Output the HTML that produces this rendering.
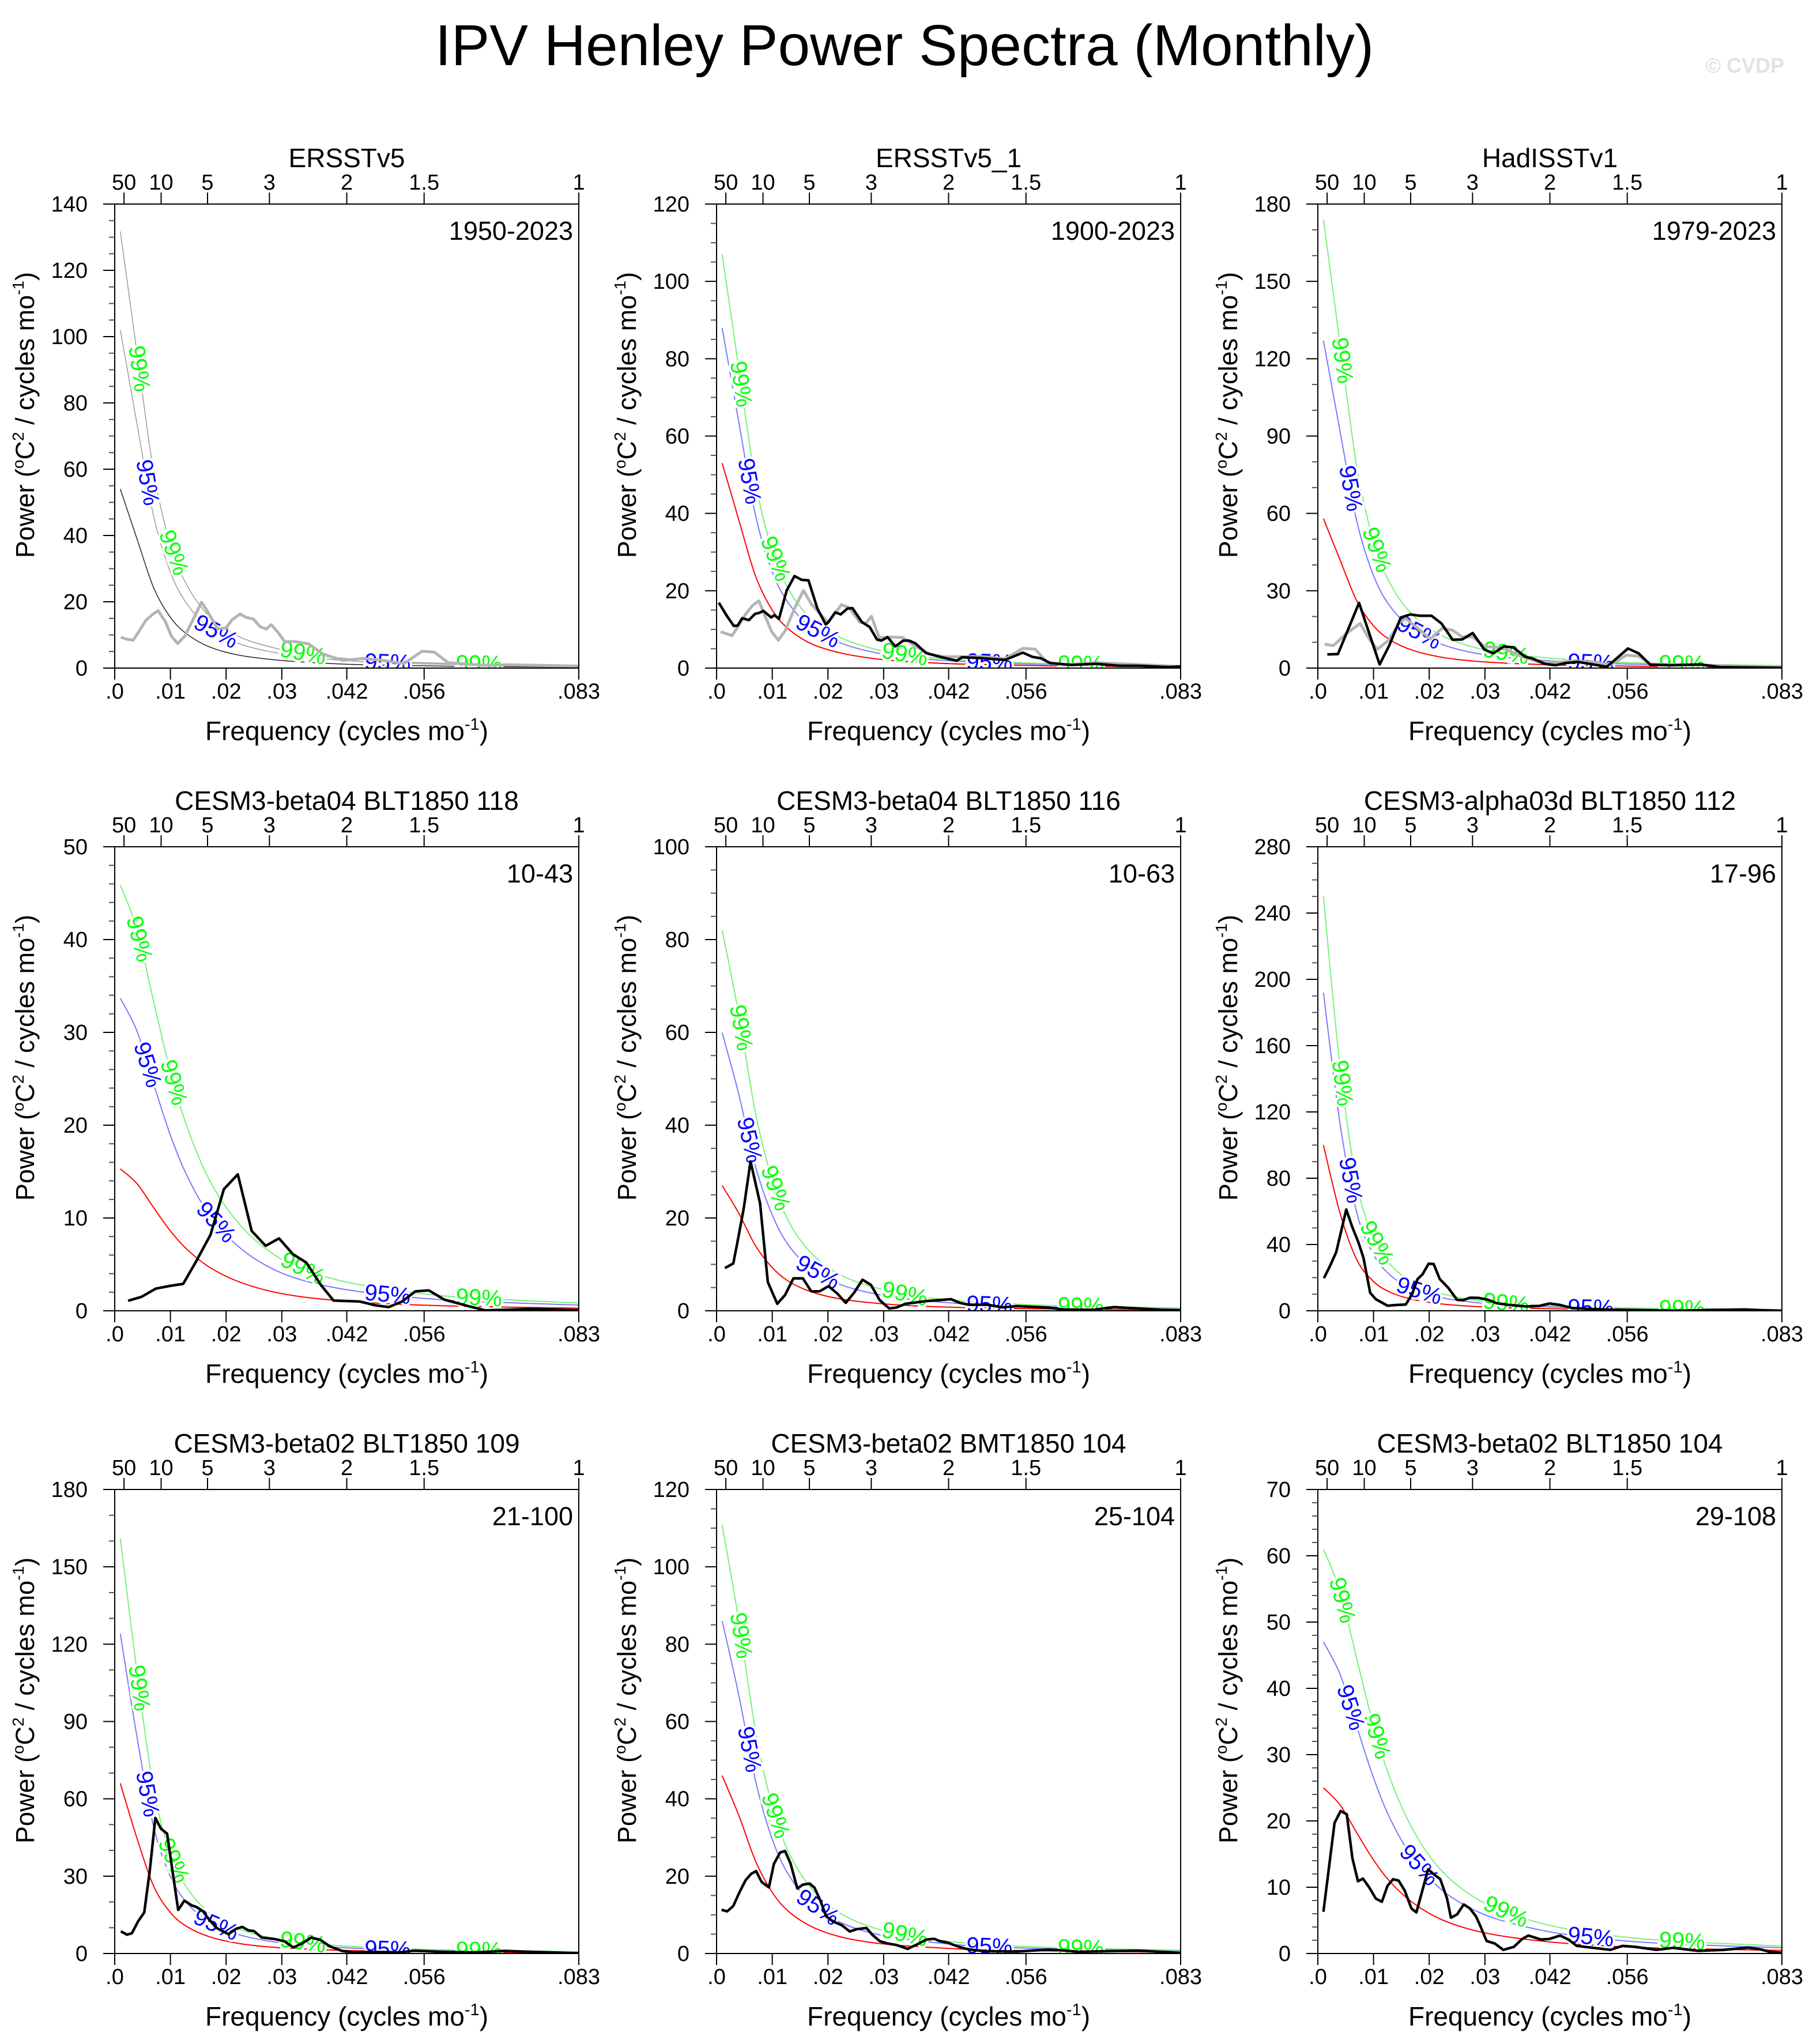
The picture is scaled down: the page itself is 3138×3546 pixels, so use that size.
<!DOCTYPE html>
<html><head><meta charset="utf-8"><style>
html,body{margin:0;padding:0;background:#fff}
svg{display:block;font-family:"Liberation Sans",Arial,sans-serif}
</style></head><body>
<svg id="chart" width="3138" height="3546" viewBox="0 0 3138 3546" xmlns="http://www.w3.org/2000/svg">
<rect width="3138" height="3546" fill="#fff"/>
<text x="1569" y="113" font-size="100" text-anchor="middle">IPV Henley Power Spectra (Monthly)</text>
<text x="3095" y="126" font-size="36" font-weight="bold" fill="#e2e2e2" text-anchor="end">© CVDP</text>
</svg>
<script>
const panelTitles = ["ERSSTv5","ERSSTv5_1","HadISSTv1","CESM3-beta04 BLT1850 118","CESM3-beta04 BLT1850 116","CESM3-alpha03d BLT1850 112","CESM3-beta02 BLT1850 109","CESM3-beta02 BMT1850 104","CESM3-beta02 BLT1850 104"];
const panelPeriods = ["1950-2023","1900-2023","1979-2023","10-43","10-63","17-96","21-100","25-104","29-108"];
const yMax = [140,120,180,50,100,280,180,120,70];
const yMajor = [20,20,30,10,20,40,30,20,10];
const yMinor = [5,5,10,2,5,10,10,5,2];
const xTickFreq = [0,0.01,0.02,0.03,0.04167,0.05556,0.08333];
const xTickLabels = [".0",".01",".02",".03",".042",".056",".083"];
const periodTicks = [50,10,5,3,2,1.5,1];
const theoryFreq = [0.001,0.004,0.007,0.010,0.013,0.017,0.022,0.028,0.035,0.045,0.060,0.0833];
const red1 = [54,39,24.2,15.3,10.2,6.4,4.0,2.6,1.7,1.0,0.58,0.31];
const red2 = [53,38.3,23.8,15.0,10.0,6.3,4.0,2.5,1.6,1.0,0.57,0.30];
const red3 = [58,41.9,26.0,16.4,10.9,6.9,4.3,2.7,1.8,1.1,0.62,0.33];
const red4 = [15.3,13.7,11.1,8.6,6.6,4.7,3.2,2.1,1.4,0.9,0.52,0.28];
const red5 = [27,21.0,14.0,9.3,6.3,4.1,2.6,1.7,1.1,0.67,0.38,0.2];
const red6 = [100,58.7,30.8,17.7,11.2,6.9,4.2,2.65,1.7,1.04,0.59,0.31];
const red7 = [66,44.7,26.1,15.9,10.4,6.5,4.0,2.5,1.65,1.0,0.57,0.3];
const red8 = [46,35.7,23.9,15.8,10.8,7.0,4.4,2.8,1.9,1.1,0.65,0.35];
const red9 = [25,22.4,18.2,14.1,10.8,7.7,5.2,3.5,2.4,1.5,0.86,0.46];
const factor95 = [1.89,1.66,2.19,2.2,2.22,1.92,1.88,1.87,1.88];
const factor99 = [2.44,2.02,3.0,3.0,3.04,2.5,2.44,2.41,2.44];
const label99Freq = [0.0044,0.0106,0.0338,0.0654];
const label95Freq = [0.0059,0.0182,0.049];

const grayF1 = [.0011,.0022,.0033,.0044,.0056,.0068,.0078,.0091,.0102,.0113,.0126,.0140,.0156,.0167,.0185,.0200,.0211,.0225,.0236,.0249,.0261,.0272,.0281,.0294,.0305,.0323,.0348,.0374,.0410,.0446,.0483,.0519,.0552,.0574,.0599,.0664,.0708,.0831];
const grayV1 = [9.3,8.7,8.4,11.2,14.4,16.2,17.3,14.0,9.6,7.4,9.7,14.4,19.9,17.0,11.8,12.1,14.6,16.3,15.3,14.8,12.5,11.8,13.1,10.6,8.0,8.0,7.3,4.2,2.3,2.9,2.3,1.3,5.1,4.8,1.6,0.8,1.0,0.6];
const grayF2 = [.0007,.0028,.0053,.0064,.0076,.0088,.0099,.0111,.0123,.0140,.0156,.0170,.0183,.0200,.0219,.0224,.0238,.0257,.0268,.0278,.0292,.0316,.0335,.0354,.0382,.0409,.0474,.0518,.0550,.0572,.0594,.0626,.0681,.0833];
const grayV2 = [9.4,8.4,14.1,16.1,17.4,13.1,9.4,7.2,9.6,15.4,20.1,16.6,14.4,11.9,15.4,16.4,15.6,11.9,11.6,13.4,7.9,8.0,7.9,5.9,3.6,2.9,3.0,2.4,5.1,4.9,1.4,0.9,1.4,0.4];
const grayF3 = [.0012,.0028,.0050,.0076,.0093,.0107,.0126,.0147,.0158,.0175,.0202,.0223,.0242,.0259,.0278,.0299,.0321,.0337,.0364,.0397,.0429,.0462,.0494,.0527,.0554,.0576,.0597,.0646,.0700,.0833];
const grayV3 = [9.3,8.7,13.2,17.3,11.0,7.3,10.6,17.7,19.2,16.2,11.3,15.4,14.7,12.1,12.1,8.4,8.0,7.3,4.7,2.4,2.2,2.8,2.4,1.4,5.0,4.6,1.6,1.3,1.1,0.15];

const dataF2 = [.0004,.0018,.0031,.0038,.0046,.0058,.0069,.0077,.0084,.0098,.0104,.0112,.0126,.0140,.0153,.0165,.0181,.0196,.0201,.0213,.0223,.0235,.0244,.0261,.0275,.0288,.0296,.0307,.0321,.0335,.0346,.0357,.0376,.0401,.0431,.0441,.0474,.0518,.0550,.0567,.0583,.0599,.0637,.0681,.0724,.0757,.0811,.0833];
const dataV2 = [16.9,13.6,10.9,11.0,12.9,12.4,14.0,14.3,14.8,13.1,13.7,12.7,20.1,23.8,22.8,22.7,15.4,11.3,11.9,14.4,13.9,15.4,15.5,11.9,10.6,7.4,7.1,8.0,5.6,7.1,7.1,6.4,3.9,2.9,1.9,2.8,2.6,2.1,4.0,2.9,2.5,1.3,0.8,1.1,0.6,0.6,0.25,0.4];
const dataF3 = [.0017,.0036,.0074,.0111,.0128,.0149,.0166,.0183,.0204,.0222,.0242,.0259,.0278,.0299,.0315,.0334,.0351,.0372,.0386,.0408,.0427,.0446,.0467,.0489,.0519,.0557,.0576,.0597,.0635,.0687,.0722,.0833];
const dataV3 = [5.3,5.4,25.3,1.4,8.7,19.6,20.8,20.3,20.3,17.3,11.0,11.1,13.6,7.2,5.7,8.4,8.0,4.4,3.7,1.6,1.1,2.0,2.4,1.6,0.5,7.6,5.7,1.3,1.1,1.4,0.4,0.1];
const dataF4 = [.0024,.0048,.0074,.0101,.0123,.0146,.0172,.0196,.0221,.0246,.0271,.0295,.0320,.0344,.0370,.0393,.0440,.0467,.0492,.0516,.0540,.0564,.0592,.0635,.0665,.0754,.0833];
const dataV4 = [1.08,1.5,2.4,2.7,2.9,5.3,8.2,13.1,14.7,8.6,7.0,7.8,6.1,5.2,2.8,1.1,1.0,0.6,0.4,1.0,2.1,2.2,1.2,0.5,0.05,0.2,0.06];
const dataF5 = [.0015,.0030,.0038,.0049,.0061,.0078,.0092,.0109,.0123,.0138,.0155,.0170,.0185,.0201,.0217,.0232,.0247,.0262,.0277,.0293,.0310,.0323,.0339,.0377,.0421,.0437,.0453,.0486,.0513,.0540,.0595,.0622,.0676,.0714,.0757,.0801,.0833];
const dataV5 = [9.2,10.2,15.1,22.2,32.2,23.2,6.2,1.5,3.4,7.0,7.0,4.2,4.2,5.3,3.7,1.7,3.9,6.7,5.6,2.3,0.5,0.7,1.5,2.1,2.5,1.7,1.3,1.3,0.75,1.0,0.7,0.3,0.2,0.8,0.5,0.2,0.1];
const dataF6 = [.0011,.0022,.0033,.0051,.0062,.0073,.0082,.0094,.0104,.0125,.0142,.0158,.0169,.0179,.0188,.0199,.0208,.0219,.0234,.0250,.0261,.0273,.0288,.0305,.0321,.0343,.0375,.0397,.0416,.0435,.0456,.0483,.0538,.0592,.0646,.0700,.0765,.0798,.0833];
const dataV6 = [19.7,27.2,35.4,61.1,50.4,41.2,31.9,10.8,7.0,3.1,3.5,3.8,9.9,19.1,22.0,28.4,28.2,19.1,13.9,6.6,6.4,7.9,7.8,6.7,4.6,3.5,2.6,2.9,4.4,3.5,1.7,1.2,0.6,0.35,0,0.5,0.8,0.35,0];
const dataF7 = [.0011,.0022,.0031,.0042,.0053,.0063,.0073,.0083,.0094,.0104,.0114,.0125,.0138,.0147,.0158,.0169,.0183,.0204,.0218,.0229,.0240,.0250,.0264,.0288,.0305,.0321,.0337,.0353,.0370,.0386,.0408,.0429,.0456,.0511,.0538,.0592,.0646,.0700,.0754,.0833];
const dataV7 = [8.6,7.3,7.9,12.5,15.9,32.3,52.6,48.4,46.5,31.6,16.9,20.5,18.7,18.0,16.5,13.3,9.9,7.5,9.6,10.3,9.0,8.7,6.2,5.6,4.7,2.3,4.0,6.2,5.2,2.8,1.0,0.4,0.6,0.45,1.1,0.6,0.4,1.0,0.6,0.1];
const dataF8 = [.0009,.0019,.0030,.0041,.0052,.0062,.0071,.0081,.0094,.0103,.0114,.0123,.0133,.0145,.0155,.0167,.0176,.0186,.0197,.0209,.0225,.0239,.0252,.0269,.0280,.0293,.0307,.0323,.0343,.0358,.0377,.0391,.0399,.0415,.0432,.0448,.0464,.0486,.0540,.0595,.0622,.0649,.0703,.0757,.0811,.0833];
const dataV8 = [11.3,10.9,12.3,15.8,18.9,20.6,21.3,18.5,17.1,23.2,26.1,26.5,23.2,16.8,17.8,18.1,17.0,13.8,9.6,8.3,7.3,5.7,6.3,6.6,4.8,3.2,2.6,2.2,1.2,2.2,3.6,3.8,3.3,2.8,1.9,1.2,0.85,0.6,0.5,1.0,0.8,0.45,0.6,0.75,0.35,0.1];
const dataF9 = [.0010,.0030,.0041,.0052,.0062,.0072,.0081,.0092,.0104,.0115,.0125,.0135,.0145,.0156,.0168,.0177,.0198,.0209,.0220,.0232,.0239,.0250,.0262,.0273,.0284,.0292,.0303,.0318,.0333,.0352,.0367,.0378,.0401,.0416,.0435,.0450,.0465,.0495,.0525,.0547,.0570,.0608,.0638,.0683,.0728,.0773,.0796,.0811,.0833];
const dataV9 = [6.3,19.7,21.5,21.0,14.4,10.9,11.3,10.0,8.3,7.8,10.2,11.2,11.0,9.5,6.8,6.2,12.7,11.9,11.2,8.3,5.4,5.9,7.4,6.8,5.6,4.1,1.9,1.5,0.55,1.0,2.2,2.7,2.1,2.2,2.7,2.1,1.15,0.85,0.55,1.15,1.0,0.55,0.85,0.4,0.55,0.9,0.6,0.25,0.1];

const redSeries = [red1,red2,red3,red4,red5,red6,red7,red8,red9];
const blackF = [null,dataF2,dataF3,dataF4,dataF5,dataF6,dataF7,dataF8,dataF9];
const blackV = [null,dataV2,dataV3,dataV4,dataV5,dataV6,dataV7,dataV8,dataV9];
const grayF = [grayF1,grayF2,grayF3,null,null,null,null,null,null];
const grayV = [grayV1,grayV2,grayV3,null,null,null,null,null,null];

const NS = "http://www.w3.org/2000/svg";
const svg = document.getElementById("chart");
const colLeft = [199,1243,2286], rowTop = [354,1469,2584], SIZE = 805, FMAX = 0.08333;

function mk(parent, tag, attrs, text){
  const e = document.createElementNS(NS, tag);
  for (const k in attrs) e.setAttribute(k, attrs[k]);
  if (text !== undefined) e.textContent = text;
  parent.appendChild(e);
  return e;
}
function smoothPath(pts){
  let d = "M" + pts[0][0].toFixed(1) + "," + pts[0][1].toFixed(1);
  for (let i = 0; i < pts.length - 1; i++){
    const p0 = pts[Math.max(i-1,0)], p1 = pts[i], p2 = pts[i+1], p3 = pts[Math.min(i+2,pts.length-1)];
    const c1x = p1[0] + (p2[0]-p0[0])/6, c1y = p1[1] + (p2[1]-p0[1])/6;
    const c2x = p2[0] - (p3[0]-p1[0])/6, c2y = p2[1] - (p3[1]-p1[1])/6;
    d += " C" + c1x.toFixed(1) + "," + c1y.toFixed(1) + " " + c2x.toFixed(1) + "," + c2y.toFixed(1) + " " + p2[0].toFixed(1) + "," + p2[1].toFixed(1);
  }
  return d;
}
function linePath(pts){
  return pts.map((p,i)=>(i?"L":"M")+p[0].toFixed(1)+","+p[1].toFixed(1)).join(" ");
}
function interp(xs, ys, x){
  for (let i = 0; i < xs.length-1; i++){
    if (x >= xs[i] && x <= xs[i+1]){ const t=(x-xs[i])/(xs[i+1]-xs[i]); return ys[i]+t*(ys[i+1]-ys[i]); }
  }
  return x < xs[0] ? ys[0] : ys[ys.length-1];
}

for (let p = 0; p < 9; p++){
  const L = colLeft[p%3], T = rowTop[Math.floor(p/3)], B = T + SIZE, R = L + SIZE;
  const ym = yMax[p];
  const X = f => L + f/FMAX*SIZE;
  const Y = v => B - v/ym*SIZE;
  const g = mk(svg, "g", {});
  
  
  const clipId = "clip" + p;
  const cp = mk(g, "clipPath", {id: clipId});
  mk(cp, "rect", {x: L, y: T, width: SIZE, height: SIZE});

  const red = redSeries[p];
  const b95 = red.map(v => v*factor95[p]);
  const g99 = red.map(v => v*factor99[p]);
  const isFirst = p === 0;
  const curveDefs = [
    [red, isFirst ? "#222" : "#ff0000", "red-noise-curve", isFirst ? 1.5 : 2],
    [b95, isFirst ? "#9a9a9a" : "#7a7aff", "confidence-95-curve", isFirst ? 1.5 : 2],
    [g99, isFirst ? "#9a9a9a" : "#7af07a", "confidence-99-curve", isFirst ? 1.5 : 2]
  ];
  const cg = mk(g, "g", {"clip-path": "url(#" + clipId + ")"});
  for (const [vals, col, nm, sw] of curveDefs){
    const pts = theoryFreq.map((f,i)=>[X(f), Y(vals[i])]);
    const path = mk(cg, "path", {d: smoothPath(pts), fill: "none", stroke: col, "stroke-width": sw});
    
    
  }
  const labelSets = [[g99, label99Freq, "99%", "#00ff00"], [b95, label95Freq, "95%", "#0000ff"]];
  for (const [vals, freqs, txt, col] of labelSets){
    for (const f of freqs){
      const x0 = X(f - 0.0008), x1 = X(f + 0.0008);
      const y0 = Y(interp(theoryFreq, vals, f - 0.0008)), y1 = Y(interp(theoryFreq, vals, f + 0.0008));
      const ang = Math.atan2(y1 - y0, x1 - x0) * 180 / Math.PI;
      const cx = X(f), cy = Y(interp(theoryFreq, vals, f));
      const t = mk(cg, "text", {x: 0, y: 0, "font-size": 40, fill: col, "text-anchor": "middle", "dominant-baseline": "central",
        stroke: "#fff", "stroke-width": 8, "paint-order": "stroke", transform: "translate(" + cx.toFixed(1) + "," + cy.toFixed(1) + ") rotate(" + ang.toFixed(1) + ")"}, txt);
      
      
    }
  }
  if (grayF[p]){
    const pts = grayF[p].map((f,i)=>[X(f), Y(grayV[p][i])]);
    const gp = mk(cg, "path", {d: linePath(pts), fill: "none", stroke: "#b4b4b4", "stroke-width": 5, "stroke-linejoin": "round"});
    
    
  }
  if (blackF[p]){
    const pts = blackF[p].map((f,i)=>[X(f), Y(blackV[p][i])]);
    const bp = mk(cg, "path", {d: linePath(pts), fill: "none", stroke: "#000", "stroke-width": 4.5, "stroke-linejoin": "round"});
    
    
  }

  const fr = mk(g, "rect", {x: L, y: T, width: SIZE, height: SIZE, fill: "none", stroke: "#000", "stroke-width": 2});
  
  

  for (let v = 0; v <= ym + 1e-9; v += yMinor[p]){
    const major = Math.abs(v/yMajor[p] - Math.round(v/yMajor[p])) < 1e-6;
    mk(g, "line", {x1: L - (major ? 20 : 10), x2: L, y1: Y(v), y2: Y(v), stroke: major ? "#000" : "#555", "stroke-width": 2});
    if (major){
      const tl = mk(g, "text", {x: L - 47, y: Y(v) + 13, "font-size": 38, "text-anchor": "end"}, String(v));
      
      
    }
  }
  xTickFreq.forEach((f,i)=>{
    mk(g, "line", {x1: X(f), x2: X(f), y1: B, y2: B + 20, stroke: "#000", "stroke-width": 2});
    const tl = mk(g, "text", {x: X(f), y: B + 53, "font-size": 38, "text-anchor": "middle"}, xTickLabels[i]);
    
    
  });
  periodTicks.forEach(P=>{
    const f = 1/(12*P);
    mk(g, "line", {x1: X(f), x2: X(f), y1: T - 20, y2: T, stroke: "#000", "stroke-width": 2});
    const tl = mk(g, "text", {x: X(f), y: T - 25, "font-size": 38, "text-anchor": "middle"}, String(P));
    
    
  });
  const tt = mk(g, "text", {x: L + SIZE/2, y: T - 64, "font-size": 46, "text-anchor": "middle"}, panelTitles[p]);
  
  
  const pl = mk(g, "text", {x: R - 10, y: T + 62, "font-size": 45, "text-anchor": "end"}, panelPeriods[p]);
  
  
  const xt = mk(g, "text", {x: L + SIZE/2, y: B + 125, "font-size": 46, "text-anchor": "middle"});
  
  
  xt.appendChild(document.createTextNode("Frequency (cycles mo"));
  mk(xt, "tspan", {"font-size": 29, dy: -18}, "-1");
  mk(xt, "tspan", {dy: 18}, ")");
  const yt = mk(g, "text", {x: 0, y: 0, "font-size": 45, "text-anchor": "middle", transform: "translate(" + (L - 140) + "," + (T + 366) + ") rotate(-90)"});
  
  
  yt.appendChild(document.createTextNode("Power ("));
  mk(yt, "tspan", {"font-size": 28, dy: -18}, "o");
  mk(yt, "tspan", {dy: 18}, "C");
  mk(yt, "tspan", {"font-size": 28, dy: -18}, "2");
  mk(yt, "tspan", {dy: 18}, " / cycles mo");
  mk(yt, "tspan", {"font-size": 28, dy: -18}, "-1");
  mk(yt, "tspan", {dy: 18}, ")");
}
</script>
</body></html>
